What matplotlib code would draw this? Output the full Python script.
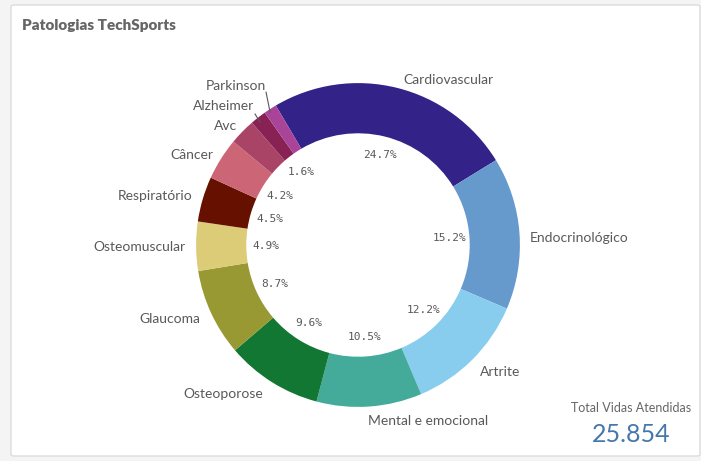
import matplotlib.pyplot as plt
from matplotlib.patches import FancyBboxPatch
import numpy as np

categories = ["Cardiovascular", "Endocrinológico", "Artrite", "Mental e emocional",
              "Osteoporose", "Glaucoma", "Osteomuscular", "Respiratório",
              "Câncer", "Avc", "Alzheimer", "Parkinson"]
percent = [24.7, 15.2, 12.2, 10.5, 9.6, 8.7, 4.9, 4.5, 4.2, 2.6, 1.6, 1.3]
# Avc and Parkinson have no inner label in the reference
show_pct = [True, True, True, True, True, True, True, True, True, False, True, False]
total_label = "Total Vidas Atendidas"
total_value = "25.854"

colors = ["#332288", "#6699CC", "#88CCEE", "#44AA99", "#117733", "#999933",
          "#DDCC77", "#661100", "#CC6677", "#AA4466", "#882255", "#AA4499"]

# outer label anchors (data units, radius 1 = outer edge) and alignment
label_pos = {
    "Cardiovascular": (0.556, 1.019, "center"),
    "Endocrinológico": (1.062, 0.043, "left"),
    "Artrite": (0.753, -0.784, "left"),
    "Mental e emocional": (0.432, -1.086, "center"),
    "Osteoporose": (-0.833, -0.92, "center"),
    "Glaucoma": (-0.975, -0.457, "right"),
    "Osteomuscular": (-1.068, -0.012, "right"),
    "Respiratório": (-1.025, 0.302, "right"),
    "Câncer": (-0.895, 0.556, "right"),
    "Avc": (-0.747, 0.735, "right"),
    "Alzheimer": (-0.642, 0.858, "right"),
    "Parkinson": (-0.568, 0.981, "right"),
}
leaders = {
    "Parkinson": ((-0.568, 0.944), (-0.543, 0.821)),
    "Alzheimer": ((-0.636, 0.809), (-0.605, 0.759)),
}

W, H = 701, 461
fig = plt.figure(figsize=(W / 100, H / 100), dpi=100)
fig.patch.set_facecolor("#f4f4f4")

card = FancyBboxPatch((11 / W, 5 / H), 689 / W, 451 / H,
                      boxstyle="round,pad=0,rounding_size=0.004",
                      transform=fig.transFigure, facecolor="white",
                      edgecolor="#dcdcdc", linewidth=1.0, zorder=-10)
fig.patches.append(card)

fig.text(22 / W, 1 - 26 / H, "Patologias TechSports", fontsize=11,
         fontweight="heavy", color="#666666", family="Lato", va="center")

cx, cy, half = 358, 245, 170
ax = fig.add_axes([(cx - half) / W, (H - cy - half) / H, 2 * half / W, 2 * half / H])

wedges, _ = ax.pie(percent, colors=colors, startangle=120.5, counterclock=False,
                   radius=1.0, wedgeprops=dict(width=0.31, edgecolor="none"))
# pie() resets the limits, so set them afterwards
ax.set_xlim(-1.05, 1.05)
ax.set_ylim(-1.05, 1.05)
ax.set_aspect("equal")
ax.axis("off")

for w, p, show in zip(wedges, percent, show_pct):
    if not show:
        continue
    mid = np.deg2rad((w.theta1 + w.theta2) / 2)
    r = 0.57
    ax.text(r * np.cos(mid), r * np.sin(mid), f"{p:.1f}%", ha="center",
            va="center", fontsize=8, color="#595959", family="DejaVu Sans Mono")

for name in categories:
    x, y, ha = label_pos[name]
    ax.text(x, y, name, ha=ha, va="center", fontsize=10, color="#595959",
            family="Lato", clip_on=False)

for name, (p0, p1) in leaders.items():
    ax.plot([p0[0], p1[0]], [p0[1], p1[1]], color="#595959", lw=0.8,
            clip_on=False)

fig.text(631 / W, 1 - 408 / H, total_label, ha="center", va="center",
         fontsize=9, color="#666666", family="Lato")
fig.text(631 / W, 1 - 434 / H, total_value, ha="center", va="center",
         fontsize=18, color="#4477AA", family="Lato")

fig.savefig("out.png", dpi=100, facecolor=fig.get_facecolor())
